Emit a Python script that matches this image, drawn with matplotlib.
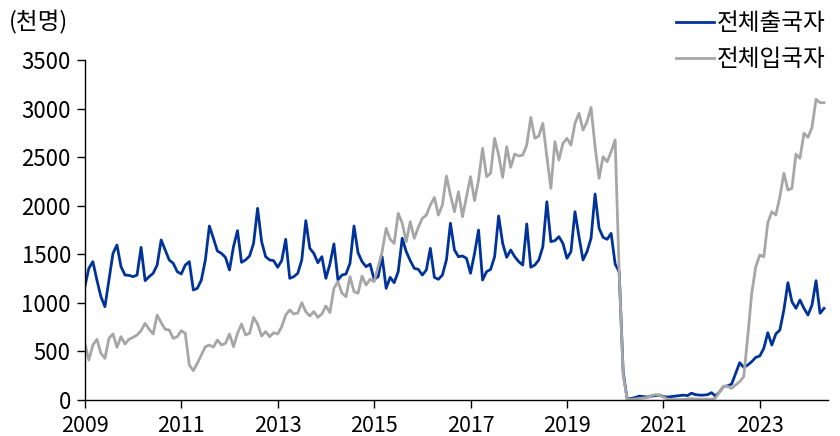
import numpy as np
import matplotlib
matplotlib.use("Agg")
import matplotlib.pyplot as plt

plt.rcParams['font.family'] = ['Noto Sans CJK KR', 'DejaVu Sans']

# monthly values, Jan 2009 .. May 2024 (thousand persons)
departures = [
    1167, 1356, 1425, 1236, 1064, 961, 1236, 1510, 1596, 1373, 1287, 1284,
    1270, 1287, 1572, 1229, 1270, 1305, 1390, 1648, 1545, 1442, 1408, 1322,
    1298, 1390, 1425, 1133, 1150, 1236, 1442, 1792, 1665, 1534, 1510, 1469,
    1339, 1579, 1744, 1418, 1442, 1483, 1613, 1974, 1631, 1476, 1442, 1435,
    1367, 1435, 1655, 1253, 1270, 1305, 1442, 1847, 1562, 1510, 1414, 1476,
    1253, 1400, 1607, 1236, 1287, 1298, 1408, 1792, 1517, 1425, 1373, 1400,
    1243, 1270, 1476, 1150, 1263, 1208, 1322, 1665, 1528, 1435, 1356, 1346,
    1287, 1339, 1562, 1263, 1243, 1287, 1442, 1820, 1545, 1476, 1483, 1459,
    1305, 1510, 1750, 1236, 1322, 1345, 1476, 1895, 1613, 1469, 1545, 1476,
    1425, 1390, 1813, 1367, 1390, 1442, 1579, 2042, 1631, 1641, 1682, 1613,
    1459, 1528, 1939, 1682, 1442, 1528, 1665, 2121, 1768, 1675, 1655, 1716,
    1400, 1320, 280, 10, 15, 25, 40, 35, 30, 40, 45, 50,
    35, 30, 35, 40, 45, 50, 45, 70, 55, 50, 50, 55,
    75, 40, 85, 140, 145, 165, 275, 384, 336, 360, 395, 439,
    453, 532, 693, 566, 680, 721, 927, 1208, 1013, 944, 1030, 944,
    875, 978, 1229, 893, 944,
]

arrivals = [
    584, 412, 566, 625, 481, 429, 635, 680, 543, 652, 577, 625,
    645, 669, 714, 790, 728, 680, 875, 796, 728, 721, 635, 652,
    714, 686, 360, 302, 378, 463, 549, 566, 545, 618, 566, 583,
    680, 549, 686, 783, 669, 686, 851, 783, 659, 704, 652, 693,
    680, 755, 875, 927, 886, 896, 1002, 910, 865, 910, 851, 886,
    968, 900, 1150, 1219, 1100, 1064, 1270, 1116, 1099, 1277, 1184, 1243,
    1219, 1373, 1528, 1768, 1655, 1613, 1923, 1820, 1631, 1837, 1665, 1778,
    1871, 1905, 2008, 2087, 1905, 2008, 2307, 2111, 1939, 2145, 1888, 2094,
    2300, 2053, 2266, 2592, 2300, 2335, 2695, 2523, 2293, 2609, 2396, 2533,
    2513, 2523, 2626, 2911, 2695, 2719, 2849, 2506, 2180, 2660, 2472, 2643,
    2695, 2626, 2849, 2952, 2781, 2866, 3014, 2609, 2283, 2506, 2454, 2557,
    2678, 1310, 260, 5, 5, 10, 15, 20, 25, 45, 55, 50,
    30, 10, 5, 5, 5, 5, 10, 15, 10, 8, 8, 10,
    8, 20, 85, 140, 140, 120, 155, 190, 240, 650, 1100, 1373,
    1493, 1475, 1826, 1939, 1905, 2094, 2335, 2163, 2180, 2533, 2489, 2747,
    2705, 2808, 3097, 3062, 3062,
]

labels = ['전체출국자', '전체입국자']
year_ticks = [2009, 2011, 2013, 2015, 2017, 2019, 2021, 2023]
y_ticks = [0, 500, 1000, 1500, 2000, 2500, 3000, 3500]

x = 2009 + np.arange(len(departures)) / 12.0

fig = plt.figure(figsize=(8.4, 4.36), dpi=100)
ax = fig.add_axes([0.101, 0.0826, 0.885, 0.7794])

ax.plot(x, departures, color='#003399', lw=2.0, label=labels[0])
ax.plot(x, arrivals, color='#a6a6a6', lw=2.0, label=labels[1])

ax.set_xlim(2009, 2024.42)
ax.set_ylim(0, 3500)
ax.set_xticks(year_ticks)
ax.set_yticks(y_ticks)
ax.tick_params(axis='both', direction='out', length=6, width=1, colors='black')
ax.tick_params(axis='y', labelsize=16, pad=4)
ax.tick_params(axis='x', labelsize=15.5, pad=5)

for side in ['top', 'right']:
    ax.spines[side].set_visible(False)
for side in ['left', 'bottom']:
    ax.spines[side].set_linewidth(1)
    ax.spines[side].set_color('black')

fig.text(0.010, 0.948, '(천명)', fontsize=17, va='center', ha='left')

fig.legend(loc='upper right', bbox_to_anchor=(1.0, 1.005), frameon=False,
           fontsize=17, handlelength=1.6, handletextpad=0.15, labelspacing=0.55,
           borderaxespad=0.2)

fig.savefig('out.png', dpi=100)
